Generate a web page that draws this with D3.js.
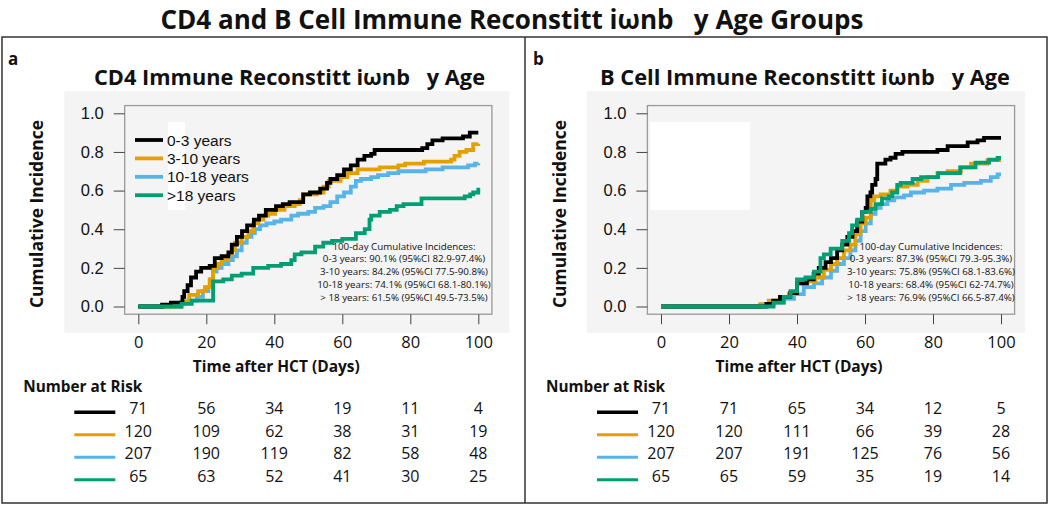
<!DOCTYPE html>
<html>
<head>
<meta charset="utf-8">
<script src="https://cdn.jsdelivr.net/npm/d3@7/dist/d3.min.js"></script>
<style>
  body { margin: 0; background: #fff; }
  svg text { font-family: "Open Sans", sans-serif; fill: #111; }
</style>
</head>
<body>
<div id="chart"></div>
<script>
// ---- data ----
var groups = ["0-3 years", "3-10 years", "10-18 years", ">18 years"];
var colors = ["#000000", "#E69F00", "#56B4E9", "#009E73"];
var xTicks = [0, 20, 40, 60, 80, 100];
var yTicks = [0, 0.2, 0.4, 0.6, 0.8, 1.0];

// CD4 reconstitution, step points [day, cumulative incidence]
var cd4_0_3 = [[0,0],[7,0.01],[9.6,0.02],[13,0.05],[13.5,0.08],[14.5,0.11],[15.5,0.15],[17,0.18],[18.5,0.20],[21,0.21],[22.5,0.25],[24.5,0.26],[26.5,0.28],[27.5,0.32],[29,0.36],[30.5,0.39],[32,0.42],[34,0.45],[35.5,0.47],[37.5,0.50],[40.5,0.52],[42.5,0.53],[44.5,0.54],[48.5,0.58],[50.5,0.59],[53.5,0.61],[55.5,0.64],[56.5,0.66],[58.5,0.68],[60.5,0.71],[62.5,0.73],[64.5,0.76],[66.5,0.78],[68.5,0.79],[69.5,0.81],[83.5,0.82],[85,0.84],[86.5,0.86],[89.5,0.87],[95.5,0.88],[97.5,0.90],[100,0.90]];
var cd4_3_10 = [[0,0],[12.7,0.026],[15,0.06],[17.6,0.08],[19.6,0.10],[21,0.14],[22,0.20],[23.5,0.22],[24.5,0.24],[26.5,0.27],[27.5,0.29],[28.4,0.33],[30.4,0.36],[32.4,0.39],[33.8,0.43],[35.3,0.45],[36.8,0.47],[38.2,0.48],[40.2,0.50],[43,0.52],[46,0.53],[47.5,0.55],[48.5,0.58],[52.5,0.59],[54.5,0.62],[56,0.65],[59.5,0.67],[61.5,0.69],[64.5,0.71],[71,0.72],[76.5,0.73],[78.5,0.74],[84,0.75],[92,0.76],[93,0.78],[94.5,0.80],[96.5,0.81],[98.5,0.84],[100,0.842]];
var cd4_10_18 = [[0,0],[12.3,0.02],[14.7,0.03],[17.2,0.05],[19,0.08],[20.6,0.10],[21.3,0.14],[22,0.18],[23,0.20],[24.5,0.22],[26.5,0.24],[27.8,0.26],[29,0.29],[30.4,0.33],[31.9,0.36],[33.3,0.38],[34.3,0.40],[35.8,0.42],[37.7,0.43],[40,0.44],[42,0.45],[45,0.47],[47,0.48],[50,0.49],[52,0.51],[54.5,0.52],[56.5,0.54],[58.5,0.57],[60.5,0.59],[62.5,0.62],[64,0.65],[65.5,0.66],[68.5,0.67],[70.5,0.68],[73.5,0.69],[76.5,0.70],[84.5,0.71],[89.5,0.72],[97,0.73],[99,0.74],[100,0.741]];
var cd4_18 = [[0,0],[12.7,0.014],[15.7,0.03],[22,0.13],[25,0.14],[27.5,0.16],[30.4,0.17],[33.8,0.20],[38.2,0.21],[42,0.22],[45,0.24],[46,0.27],[48,0.28],[52,0.31],[54.4,0.33],[57,0.34],[60,0.35],[64,0.38],[66.6,0.40],[68,0.45],[68.5,0.47],[71,0.49],[74,0.50],[76,0.52],[78,0.53],[83.3,0.56],[96,0.57],[97.6,0.58],[98.5,0.59],[100,0.615]];

// B cell reconstitution
var b_0_3 = [[0,0],[31,0.014],[33,0.03],[35,0.05],[38,0.07],[40,0.12],[42.9,0.14],[44.9,0.17],[46.4,0.20],[48.4,0.23],[50,0.25],[51.8,0.29],[53.3,0.32],[54.8,0.36],[56.3,0.39],[57.7,0.44],[59.2,0.49],[60.2,0.51],[60.7,0.57],[61.6,0.59],[62.1,0.63],[63.1,0.66],[63.6,0.74],[66,0.76],[67.5,0.77],[69,0.79],[71,0.80],[81.3,0.81],[84.3,0.83],[90.2,0.85],[93.1,0.86],[95,0.873],[100,0.873]];
var b_3_10 = [[0,0],[29.2,0.012],[31.7,0.03],[35,0.05],[37.6,0.064],[40,0.12],[43,0.13],[45.4,0.15],[47.9,0.19],[50,0.22],[51.8,0.25],[53.8,0.29],[55.7,0.32],[57.2,0.375],[58.7,0.43],[60.2,0.46],[61.7,0.55],[62.7,0.57],[64.6,0.58],[67.5,0.60],[69.5,0.62],[72.5,0.63],[75.5,0.65],[78.4,0.67],[81.3,0.69],[84.3,0.70],[88.2,0.72],[91.2,0.74],[96,0.758],[100,0.758]];
var b_10_18 = [[0,0],[29.2,0.01],[33.1,0.02],[36.1,0.04],[39.1,0.064],[42,0.10],[45,0.12],[47.4,0.15],[50,0.185],[51.8,0.22],[53.8,0.25],[55.7,0.29],[57.2,0.34],[58.7,0.39],[60.2,0.43],[61.7,0.48],[63.1,0.51],[64.6,0.53],[66.6,0.55],[68.6,0.565],[71.5,0.575],[73.5,0.59],[77.4,0.60],[81.3,0.61],[85.3,0.63],[89.2,0.64],[94.1,0.65],[97,0.67],[99,0.684],[100,0.684]];
var b_18 = [[0,0],[33.1,0.02],[36.1,0.05],[38.1,0.08],[40,0.14],[42.5,0.15],[45,0.18],[46.9,0.25],[47.9,0.27],[49.9,0.30],[53.3,0.34],[55.3,0.38],[56.2,0.42],[57.7,0.45],[59.2,0.49],[61.7,0.505],[63.1,0.53],[65,0.56],[67,0.57],[68,0.59],[69.5,0.63],[70.5,0.64],[74,0.66],[76.5,0.67],[81.5,0.69],[88,0.72],[92.5,0.745],[96.5,0.76],[99,0.769],[100,0.769]];

// number at risk, one row per group, one column per x tick
var riskCD4 = [[71,56,34,19,11,4],[120,109,62,38,31,19],[207,190,119,82,58,48],[65,63,52,41,30,25]];
var riskB = [[71,71,65,34,12,5],[120,120,111,66,39,28],[207,207,191,125,76,56],[65,65,59,35,19,14]];

var notesCD4 = ["100-day Cumulative Incidences:",
  "0-3 years: 90.1% (95%CI 82.9-97.4%)",
  "3-10 years: 84.2% (95%CI 77.5-90.8%)",
  "10-18 years: 74.1% (95%CI 68.1-80.1%)",
  "> 18 years: 61.5% (95%CI 49.5-73.5%)"];
var notesB = ["100-day Cumulative Incidences:",
  "0-3 years: 87.3% (95%CI 79.3-95.3%)",
  "3-10 years: 75.8% (95%CI 68.1-83.6%)",
  "10-18 years: 68.4% (95%CI 62-74.7%)",
  "> 18 years: 76.9% (95%CI 66.5-87.4%)"];

var mainTitle = "CD4 and B Cell Immune Reconstitt i\u03c9nb   y Age Groups";

// ---- helpers ----
function squeeze(t, w) {
  t.attr("textLength", w).attr("lengthAdjust", "spacingAndGlyphs");
  return t;
}

var svg = d3.select("#chart").append("svg")
  .attr("width", 1050)
  .attr("height", 506);

// outer frames
svg.append("rect").attr("x", 2).attr("y", 37).attr("width", 1045).attr("height", 466)
  .attr("fill", "none").attr("stroke", "#333").attr("stroke-width", 1.5);
svg.append("line").attr("x1", 525).attr("x2", 525).attr("y1", 37).attr("y2", 503)
  .attr("stroke", "#333").attr("stroke-width", 1.5);

squeeze(svg.append("text")
  .attr("x", 512).attr("y", 29)
  .attr("text-anchor", "middle")
  .attr("font-size", 26.5).attr("font-weight", "bold")
  .style("white-space", "pre")
  .text(mainTitle), 703);

function drawPanel(p) {
  var x = d3.scaleLinear().domain([0, 100]).range([p.x0, p.x0 + 340]);
  var y = d3.scaleLinear().domain([0, 1]).range([306.5, 113.3]);
  var g = svg.append("g");

  // panel letter
  g.append("text").attr("x", p.letterX).attr("y", 65)
    .attr("font-size", 17).attr("font-weight", "bold").text(p.letter);

  // grey picture background
  g.append("rect").attr("x", p.x0 - 74).attr("y", 91)
    .attr("width", p.bgW).attr("height", 242).attr("fill", "#f4f4f4");
  g.append("rect").attr("x", p.patch[0]).attr("y", 122)
    .attr("width", p.patch[1]).attr("height", 88).attr("fill", "#fff");

  // plot box (R style, 4% padding)
  g.append("rect")
    .attr("x", x(-4)).attr("y", y(1.04))
    .attr("width", x(104) - x(-4)).attr("height", y(-0.04) - y(1.04))
    .attr("fill", "none").attr("stroke", "#999").attr("stroke-width", 1.3);

  // axes
  var ya = g.append("g")
    .attr("transform", "translate(" + x(-4) + ",0)")
    .call(d3.axisLeft(y).tickValues(yTicks).tickFormat(d3.format(".1f")).tickSize(11).tickPadding(10));
  ya.select(".domain").remove();
  ya.selectAll("line").attr("stroke", "#444");
  ya.selectAll("text").style("font-family", "'Liberation Sans', Arial, sans-serif")
    .attr("font-size", 16.5).attr("fill", "#222");

  var xa = g.append("g")
    .attr("transform", "translate(0," + y(-0.04) + ")")
    .call(d3.axisBottom(x).tickValues(xTicks).tickSize(10).tickPadding(12));
  xa.select(".domain").remove();
  xa.selectAll("line").attr("stroke", "#444");
  xa.selectAll("text").attr("font-size", 16.5).attr("fill", "#111");

  // curves
  var line = d3.line()
    .x(function(d) { return x(d[0]); })
    .y(function(d) { return y(d[1]); })
    .curve(d3.curveStepAfter);
  p.order.forEach(function(i) {
    g.append("path").datum(p.curves[i])
      .attr("fill", "none").attr("stroke", colors[i])
      .attr("stroke-width", 3.8).attr("d", line);
  });

  // titles
  squeeze(g.append("text").attr("x", p.titleX).attr("y", 85)
    .attr("text-anchor", "middle").attr("font-size", 21).attr("font-weight", "bold")
    .style("white-space", "pre").text(p.title), p.titleW);

  squeeze(g.append("text")
    .attr("transform", "translate(" + (p.x0 - 95) + ",214) rotate(-90)")
    .attr("text-anchor", "middle").attr("font-size", 18.5).attr("font-weight", "bold")
    .text("Cumulative Incidence"), 188);

  squeeze(g.append("text").attr("x", x(50) - 32).attr("y", 372)
    .attr("text-anchor", "middle").attr("font-size", 15.5).attr("font-weight", "bold")
    .text("Time after HCT (Days)"), 167);

  // annotation
  g.selectAll(".note").data(p.notes).enter().append("text")
    .attr("x", p.noteX)
    .attr("y", function(d, i) { return 249.5 + i * 12.9; })
    .attr("text-anchor", "middle").attr("font-size", 9.4).attr("fill", "#222")
    .text(function(d) { return d; })
    .each(function() {
      d3.select(this).attr("textLength", this.getComputedTextLength() * 1.04)
        .attr("lengthAdjust", "spacingAndGlyphs");
    });

  // legend
  if (p.legend) {
    groups.forEach(function(name, i) {
      var cy = 140 + i * 18.4;
      g.append("line").attr("x1", 135).attr("x2", 163).attr("y1", cy).attr("y2", cy)
        .attr("stroke", colors[i]).attr("stroke-width", 3.8);
      g.append("text").attr("x", 167).attr("y", cy + 5.5)
        .style("font-family", "'Liberation Sans', Arial, sans-serif")
        .attr("font-size", 15.5).text(name);
    });
  }

  // number at risk
  squeeze(g.append("text").attr("x", p.x0 - 115).attr("y", 392)
    .attr("font-size", 16).attr("font-weight", "bold").text("Number at Risk"), 119);

  p.risk.forEach(function(row, i) {
    var by = 414.3 + i * 22.5;
    g.append("line").attr("x1", p.x0 - 64).attr("x2", p.x0 - 23)
      .attr("y1", by - 2).attr("y2", by - 2)
      .attr("stroke", colors[i]).attr("stroke-width", i === 0 ? 3.5 : 3);
    g.selectAll(".r" + i).data(row).enter().append("text")
      .attr("x", function(d, j) { return x(xTicks[j]); })
      .attr("y", by)
      .attr("text-anchor", "middle").attr("font-size", 16)
      .text(function(d) { return d; });
  });
}

drawPanel({
  letter: "a", letterX: 8, x0: 138.3, bgW: 445, patch: [168, 17],
  title: "CD4 Immune Reconstitt i\u03c9nb   y Age", titleX: 289.5, titleW: 391,
  curves: [cd4_0_3, cd4_3_10, cd4_10_18, cd4_18], order: [2, 1, 0, 3],
  notes: notesCD4, noteX: 404, legend: true, risk: riskCD4
});

drawPanel({
  letter: "b", letterX: 533, x0: 661, bgW: 438, patch: [650, 100],
  title: "B Cell Immune Reconstitt i\u03c9nb   y Age", titleX: 805, titleW: 410,
  curves: [b_0_3, b_3_10, b_10_18, b_18], order: [2, 1, 0, 3],
  notes: notesB, noteX: 931, legend: false, risk: riskB
});
</script>
</body>
</html>
